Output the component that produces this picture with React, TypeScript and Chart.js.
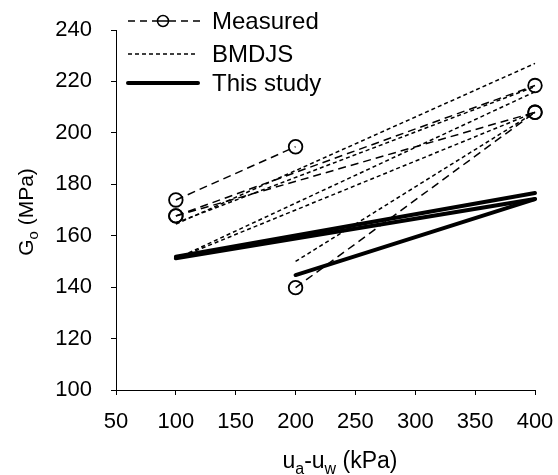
import React, { useEffect, useRef } from "react";
import { Chart, registerables } from "chart.js";

Chart.register(...registerables);

// Suction (kPa) and small-strain shear modulus Go (MPa), one pair per segment
const measuredX = [[100, 200], [100, 400], [100, 400], [200, 400]];
const measuredY = [[173.9, 194.6], [167.7, 218.4], [167.7, 208.0], [139.8, 208.0]];

const bmdjsX = [[100, 400], [100, 400], [100, 400], [100, 400], [200, 400]];
const bmdjsY = [[164.5, 227.0], [165.0, 218.0], [151.0, 216.0], [151.0, 208.0], [150.0, 208.0]];

const studyX = [[100, 400], [100, 400], [200, 400]];
const studyY = [[151.8, 176.6], [151.2, 174.3], [144.7, 174.2]];

const xTicks = [50, 100, 150, 200, 250, 300, 350, 400];
const yTicks = [100, 120, 140, 160, 180, 200, 220, 240];

const FONT = "Arial, 'Liberation Sans', sans-serif";

const seg = (xs: number[], ys: number[]) => xs.map((x, i) => ({ x, y: ys[i] }));

// Axis titles with subscripts and the three-entry legend
const decorations = {
  id: "decorations",
  afterDraw(chart: any) {
    const ctx = chart.ctx as CanvasRenderingContext2D;
    ctx.save();
    ctx.fillStyle = "#000";
    ctx.strokeStyle = "#000";
    ctx.textBaseline = "alphabetic";

    const drawRuns = (
      runs: { t: string; sub?: boolean }[],
      cx: number,
      cy: number,
      size: number,
      subSize: number
    ) => {
      const big = `${size}px ${FONT}`;
      const small = `${subSize}px ${FONT}`;
      let w = 0;
      runs.forEach((r) => {
        ctx.font = r.sub ? small : big;
        w += ctx.measureText(r.t).width;
      });
      let x = cx - w / 2;
      runs.forEach((r) => {
        ctx.font = r.sub ? small : big;
        ctx.fillText(r.t, x, cy + (r.sub ? size * 0.25 : 0));
        x += ctx.measureText(r.t).width;
      });
    };

    // x title
    drawRuns(
      [{ t: "u" }, { t: "a", sub: true }, { t: "-u" }, { t: "w", sub: true }, { t: " (kPa)" }],
      340,
      468,
      23,
      16
    );

    // y title (rotated)
    ctx.save();
    ctx.translate(33, 212);
    ctx.rotate(-Math.PI / 2);
    drawRuns([{ t: "G" }, { t: "o", sub: true }, { t: " (MPa)" }], 0, 0, 21, 15);
    ctx.restore();

    // legend
    const x0 = 128;
    const x1 = 198;
    const tx = 212;
    const rows = [21, 54, 83];
    const cxm = 163;
    ctx.font = `24px ${FONT}`;
    ctx.textBaseline = "middle";

    // Measured
    ctx.lineWidth = 1.5;
    ctx.setLineDash([7, 5]);
    ctx.beginPath();
    ctx.moveTo(x0, rows[0]);
    ctx.lineTo(cxm - 6, rows[0]);
    ctx.moveTo(cxm + 6, rows[0]);
    ctx.lineTo(x1 + 4, rows[0]);
    ctx.stroke();
    ctx.setLineDash([]);
    ctx.beginPath();
    ctx.arc(cxm, rows[0], 5.5, 0, Math.PI * 2);
    ctx.moveTo(cxm - 5.5, rows[0]);
    ctx.lineTo(cxm + 5.5, rows[0]);
    ctx.stroke();
    ctx.fillText("Measured", tx, rows[0] + 1);

    // BMDJS
    ctx.setLineDash([4, 3]);
    ctx.beginPath();
    ctx.moveTo(x0, rows[1]);
    ctx.lineTo(x1, rows[1]);
    ctx.stroke();
    ctx.setLineDash([]);
    ctx.fillText("BMDJS", tx, rows[1] + 1);

    // This study
    ctx.lineWidth = 4;
    ctx.lineCap = "round";
    ctx.beginPath();
    ctx.moveTo(x0, rows[2]);
    ctx.lineTo(x1, rows[2]);
    ctx.stroke();
    ctx.fillText("This study", tx, rows[2] + 1);

    ctx.restore();
  },
};

const noScalePadding = (s: any) => {
  s.paddingLeft = 0;
  s.paddingRight = 0;
  s.paddingTop = 0;
  s.paddingBottom = 0;
};

export default function App() {
  const ref = useRef<HTMLCanvasElement | null>(null);

  useEffect(() => {
    if (!ref.current) return;

    const measured = measuredX.map((xs, i) => ({
      data: seg(xs, measuredY[i]),
      showLine: true,
      borderColor: "#000",
      borderWidth: 1.5,
      borderDash: [8, 5],
      pointRadius: 6.8,
      pointBorderWidth: 1.8,
      pointBorderColor: "#000",
      pointBackgroundColor: "rgba(0,0,0,0)",
      clip: false as any,
    }));
    const bmdjs = bmdjsX.map((xs, i) => ({
      data: seg(xs, bmdjsY[i]),
      showLine: true,
      borderColor: "#000",
      borderWidth: 1.5,
      borderDash: [4, 3],
      pointRadius: 0,
      clip: false as any,
    }));
    const study = studyX.map((xs, i) => ({
      data: seg(xs, studyY[i]),
      showLine: true,
      borderColor: "#000",
      borderWidth: 4,
      borderCapStyle: "round" as const,
      pointRadius: 0,
      clip: false as any,
    }));

    const chart = new Chart(ref.current, {
      type: "scatter",
      data: { datasets: [...study, ...bmdjs, ...measured] as any },
      options: {
        responsive: false,
        animation: false,
        layout: { padding: { left: 0, top: 30, right: 23, bottom: 0 } },
        plugins: { legend: { display: false }, tooltip: { enabled: false } },
        scales: {
          x: {
            type: "linear",
            min: 50,
            max: 400,
            afterBuildTicks: (s: any) => {
              s.ticks = xTicks.map((v) => ({ value: v }));
            },
            afterFit: (s: any) => {
              s.height = 85;
              noScalePadding(s);
            },
            border: { color: "#000", width: 1 },
            grid: { drawOnChartArea: false, drawTicks: true, tickLength: 5, color: "#000" },
            ticks: { color: "#000", font: { family: FONT, size: 22 }, padding: 14, maxRotation: 0 },
          },
          y: {
            type: "linear",
            min: 100,
            max: 240,
            afterBuildTicks: (s: any) => {
              s.ticks = yTicks.map((v) => ({ value: v }));
            },
            afterFit: (s: any) => {
              s.width = 116;
              noScalePadding(s);
            },
            border: { color: "#000", width: 1 },
            grid: { drawOnChartArea: false, drawTicks: true, tickLength: 5, color: "#000" },
            ticks: { color: "#000", font: { family: FONT, size: 22 }, padding: 19 },
          },
        },
      },
      plugins: [decorations],
    });

    return () => chart.destroy();
  }, []);

  return (
    <div style={{ position: "absolute", left: 0, top: 0, width: 558, height: 475, background: "#fff" }}>
      <canvas ref={ref} width={558} height={475} />
    </div>
  );
}
